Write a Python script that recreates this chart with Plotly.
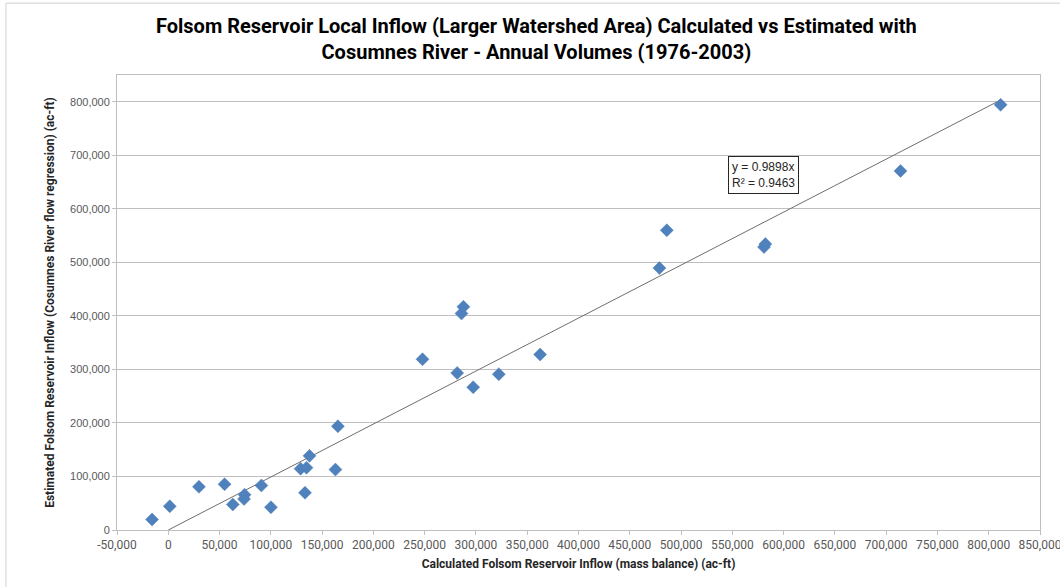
import plotly.graph_objects as go

# Annual volumes 1976-2003 (ac-ft)
calculated_inflow = [
    -15800, 1460, 29900, 54900, 62900, 74400, 73900, 90800, 100100, 129000,
    134800, 137700, 133300, 163000, 165400, 247900, 281700, 285900, 287800,
    297300, 322300, 362600, 478900, 486100, 580900, 582200, 714000, 811600,
]
estimated_inflow = [
    19600, 44300, 80800, 85500, 47700, 65900, 58000, 83300, 42500, 114500,
    116400, 138500, 69600, 112800, 193700, 319000, 293400, 404600, 416900,
    266700, 291000, 327800, 489300, 559900, 528600, 534200, 670800, 794300,
]

# Linear trendline forced through the origin
trend_slope = 0.9898
trend_r2 = 0.9463

x_ticks = list(range(-50000, 850001, 50000))
y_ticks = list(range(0, 800001, 100000))


def fmt(v):
    # plain hyphen for negatives, comma thousands
    return f"{v:,}"


FONT = "Liberation Sans Narrow, Arial Narrow, Roboto, sans-serif"
TICK_COLOR = "#595959"
GRID_COLOR = "#BFBFBF"

trend_x = [0, max(calculated_inflow)]
trend_y = [trend_slope * v for v in trend_x]

fig = go.Figure()
fig.add_trace(go.Scatter(
    x=trend_x, y=trend_y, mode="lines",
    line=dict(color="#6E6E6E", width=1),
    hoverinfo="skip", showlegend=False,
))
fig.add_trace(go.Scatter(
    x=calculated_inflow, y=estimated_inflow, mode="markers",
    marker=dict(symbol="diamond", size=10, color="#4F81BD",
                line=dict(color="#4F81BD", width=0.5)),
    showlegend=False,
))

fig.add_annotation(
    x=580000, y=663000, xref="x", yref="y",
    text=f"y = {trend_slope}x<br>R² = {trend_r2}",
    showarrow=False, align="left",
    font=dict(family="Liberation Sans, Arial, sans-serif", size=12, color="#262626"),
    bordercolor="#262626", borderwidth=1, borderpad=3, bgcolor="white",
)

fig.update_layout(
    width=1060, height=587,
    margin=dict(l=117, r=20, t=75, b=57),
    paper_bgcolor="white", plot_bgcolor="white",
    title=dict(
        text="Folsom Reservoir Local Inflow (Larger Watershed Area) Calculated vs Estimated with<br>Cosumnes River - Annual Volumes (1976-2003)",
        x=0.506, xanchor="center", y=0.944, yanchor="top",
        font=dict(family=FONT, size=20, color="black", weight="bold"),
    ),
    font=dict(family="Liberation Sans, Arial, sans-serif", size=11, color=TICK_COLOR),
    xaxis=dict(
        range=[-50000, 850000], tickvals=x_ticks, ticktext=[fmt(v) for v in x_ticks],
        ticklabeloverflow="allow", automargin=False,
        showgrid=False, zeroline=False,
        showline=True, linecolor=GRID_COLOR, linewidth=1, mirror=True,
        ticks="outside", ticklen=4, tickcolor=GRID_COLOR,
        tickfont=dict(family=FONT, size=12, color=TICK_COLOR),
        title=dict(text="Calculated Folsom Reservoir Inflow (mass balance) (ac-ft)",
                   font=dict(family=FONT, size=12, color="#262626", weight="bold"),
                   standoff=8),
    ),
    yaxis=dict(
        range=[0, 850000], tickvals=y_ticks, ticktext=[fmt(v) for v in y_ticks],
        showgrid=True, gridcolor=GRID_COLOR, gridwidth=1, zeroline=False,
        showline=True, linecolor=GRID_COLOR, linewidth=1, mirror=True,
        ticks="outside", ticklen=4, tickcolor=GRID_COLOR,
        tickfont=dict(family="Liberation Sans, Arial, sans-serif", size=11, color=TICK_COLOR),
        title=dict(text="Estimated Folsom Reservoir Inflow (Cosumnes River flow regression) (ac-ft)",
                   font=dict(family=FONT, size=12, color="#262626", weight="bold"),
                   standoff=12),
    ),
    shapes=[
        dict(type="line", xref="paper", yref="paper",
             x0=-0.1203, x1=-0.1203, y0=-0.13, y1=1.158,
             line=dict(color="#D0D0D0", width=1)),
        dict(type="line", xref="paper", yref="paper",
             x0=-0.1203, x1=1.03, y0=1.158, y1=1.158,
             line=dict(color="#D0D0D0", width=1)),
    ],
)

fig.write_html("out.html")
